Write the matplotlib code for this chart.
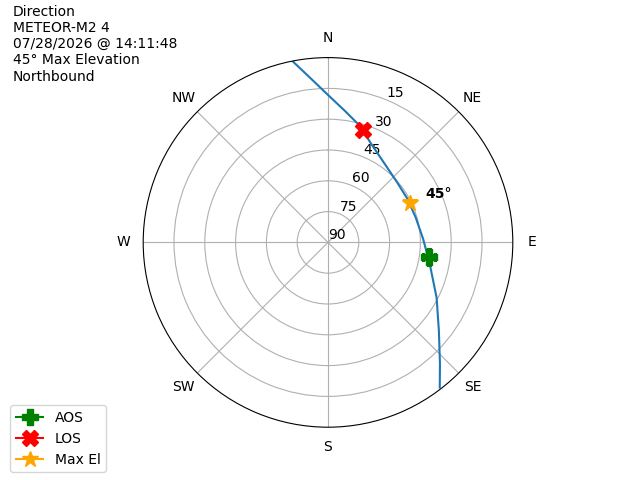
import matplotlib
matplotlib.use("Agg")
import matplotlib.pyplot as plt
import numpy as np

# pass track (azimuth deg, elevation deg)
track_az = [348.9, 354.3, 359.1, 367.4, 375.4, 383.5, 396.1, 409.0, 421.2, 434.1, 448.1, 462.1, 476.9, 488.6, 497.3, 502.4]
track_el = [0.0, 10.2, 17.1, 25.5, 31.2, 37.5, 42.9, 45.4, 45.9, 45.6, 43.6, 39.3, 30.7, 20.9, 9.6, 0.8]

aos_az, aos_el = 98.4, 40.2
los_az, los_el = 17.4, 32.6
max_az, max_el = 64.6, 45.8

compass = ["N", "NE", "E", "SE", "S", "SW", "W", "NW"]
r_ticks = [0, 15, 30, 45, 60, 75]
r_labels = ["90", "75", "60", "45", "30", "15"]

info = "Direction\nMETEOR-M2 4\n07/28/2026 @ 14:11:48\n45° Max Elevation\nNorthbound"

fig = plt.figure(figsize=(6.4, 4.8), dpi=100)
ax = fig.add_subplot(111, projection="polar")
ax.set_theta_zero_location("N")
ax.set_theta_direction(-1)

ax.plot(np.radians(track_az), 90 - np.array(track_el), color="tab:blue")

ax.plot(np.radians(aos_az), 90 - aos_el, marker="P", color="green", markersize=12, label="AOS")
ax.plot(np.radians(los_az), 90 - los_el, marker="X", color="red", markersize=12, label="LOS")
ax.plot(np.radians(max_az), 90 - max_el, marker="*", color="orange", markersize=12, label="Max El")
ax.annotate("45°", xy=(np.radians(max_az), 90 - max_el), xytext=(11, 1.5),
            textcoords="offset points", ha="left", va="bottom", fontweight="bold")

ax.set_ylim(0, 90)
ax.set_yticks(r_ticks)
ax.set_yticklabels(r_labels)
ax.set_thetagrids(range(0, 360, 45), compass)

fig.legend(loc="lower left", bbox_to_anchor=(0.005, 0.002))
fig.text(0.02, 0.99, info, ha="left", va="top")

plt.savefig("out.png")
